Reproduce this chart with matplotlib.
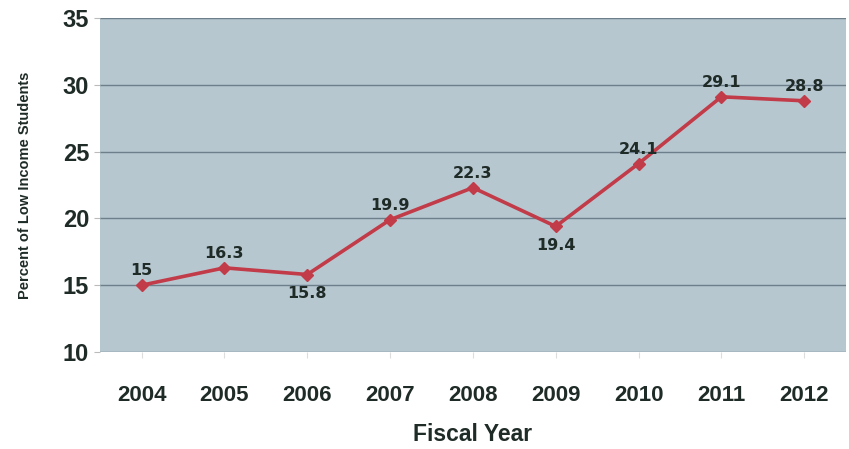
import matplotlib.pyplot as plt

# Share of low income students by fiscal year
years = ['2004', '2005', '2006', '2007', '2008', '2009', '2010', '2011', '2012']
percent = [15, 16.3, 15.8, 19.9, 22.3, 19.4, 24.1, 29.1, 28.8]
label_above = [True, True, False, True, True, False, True, True, True]

TEXT = '#1f2b27'
LINE = '#c23b48'

plt.rcParams['font.family'] = ['Liberation Sans', 'DejaVu Sans']

fig = plt.figure(figsize=(8.49, 4.49), dpi=100)
ax = fig.add_axes([0.118, 0.216, 0.878, 0.744])
ax.set_facecolor('#b7c7d0')

x = list(range(len(years)))
ax.plot(x, percent, color=LINE, linewidth=2.6, marker='D', markersize=6.5,
        markerfacecolor=LINE, markeredgecolor=LINE, zorder=3)

for xi, v, up in zip(x, percent, label_above):
    ax.annotate(f'{v:g}', (xi, v), xytext=(0, 5 if up else -8),
                textcoords='offset points', ha='center',
                va='bottom' if up else 'top', fontsize=11.5, fontweight='bold',
                color=TEXT, family=['DejaVu Sans'], zorder=4)

ax.set_xlim(-0.5, len(years) - 0.5)
ax.set_ylim(10, 35)
ax.set_yticks(range(10, 36, 5))
ax.set_xticks(x)
ax.set_xticklabels(years)
ax.grid(axis='y', color='#6c7f8a', linewidth=1.0)
ax.set_axisbelow(True)

for side in ['top', 'right', 'left', 'bottom']:
    ax.spines[side].set_visible(False)

ax.tick_params(axis='y', labelsize=17, colors=TEXT, length=4, color='#bbbbbb', pad=4)
ax.tick_params(axis='x', labelsize=16, colors=TEXT, length=4, color='#dddddd', pad=20)
for lbl in ax.get_xticklabels() + ax.get_yticklabels():
    lbl.set_fontweight('bold')

ax.set_xlabel('Fiscal Year', fontsize=16.5, fontweight='bold', color=TEXT, labelpad=12)
ax.set_ylabel('Percent of Low Income Students', fontsize=10.5, fontweight='bold',
              color=TEXT, labelpad=22)

plt.savefig('out.png', dpi=100)
